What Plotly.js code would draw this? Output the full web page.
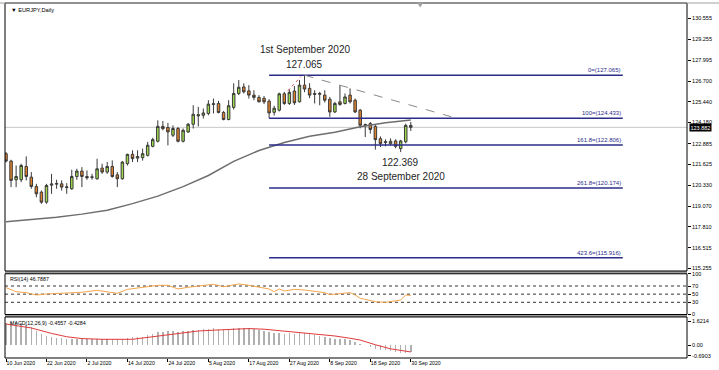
<!DOCTYPE html>
<html><head><meta charset="utf-8">
<script src="https://cdn.plot.ly/plotly-3.0.1.min.js"></script>
<style>html,body{margin:0;padding:0;background:#fff}#chart{width:719px;height:370px}</style>
</head><body><div id="chart"></div>
<script>
// ---- candles (daily bars, 10 Jun 2020 .. 30 Sep 2020) ----
const openP  = [122.27,121.82,120.68,120.68,121.49,120.84,120.27,119.92,119.31,120.35,
                120.45,120.43,120.20,120.13,120.88,121.21,120.88,120.83,120.74,121.39,
                121.15,121.49,120.98,120.74,121.66,122.23,122.00,122.03,122.17,122.72,
                123.03,123.94,123.87,123.40,123.81,123.03,123.60,124.07,124.58,124.62,
                124.73,125.28,125.34,124.79,124.36,125.10,125.95,126.35,126.11,125.85,
                125.71,125.65,125.48,124.80,124.93,125.93,125.34,126.10,125.44,126.46,
                126.26,125.95,125.90,125.85,125.60,124.82,125.44,125.34,125.85,125.54,
                124.93,123.98,124.11,123.94,123.19,122.95,122.88,123.05,122.58,123.00,124.00];
const highP  = [122.37,121.90,121.55,121.66,122.11,121.15,120.43,120.02,120.43,121.04,
                120.68,120.64,120.47,121.29,121.35,121.45,121.25,121.04,121.96,121.66,
                121.76,121.86,121.15,121.82,122.27,122.48,122.48,122.58,122.99,123.25,
                124.31,124.27,124.15,124.00,123.90,123.81,124.15,125.23,125.13,125.03,
                125.54,125.64,125.50,124.88,125.54,126.57,126.77,126.57,126.46,126.15,
                125.85,125.80,125.60,125.20,126.00,126.05,126.20,126.40,126.77,127.065,
                126.58,126.15,126.05,126.15,125.74,125.44,126.46,125.95,126.26,125.64,
                125.00,124.11,124.21,124.07,123.33,123.15,123.21,123.15,123.12,124.11,124.21];
const lowP   = [121.75,120.23,120.23,120.53,120.64,120.13,119.61,119.21,119.21,119.82,
                120.13,120.02,119.82,120.07,120.68,120.23,120.68,120.68,120.68,121.04,
                121.04,120.80,120.23,120.68,121.55,121.76,121.76,121.85,122.10,122.66,
                122.96,123.70,122.78,123.29,122.96,122.96,123.54,123.81,123.94,124.42,
                124.62,124.73,124.73,124.31,124.31,124.97,125.85,125.95,125.64,125.54,
                125.40,125.30,124.433,124.60,124.85,125.25,125.25,125.25,125.40,126.03,
                125.66,125.34,125.23,125.40,124.52,124.76,125.20,125.28,125.34,124.76,
                123.82,123.29,123.50,122.52,122.68,122.72,122.78,122.60,122.369,122.90,123.66];
const closeP = [121.82,120.64,120.88,121.55,120.88,120.27,119.82,119.31,120.33,120.42,
                120.42,120.23,120.24,120.88,121.21,120.88,120.80,120.85,121.35,121.15,
                121.49,120.88,120.74,121.76,122.23,121.97,122.10,122.27,122.79,123.13,
                123.94,123.80,123.60,123.81,123.03,123.70,124.07,124.68,124.65,124.76,
                125.30,125.32,124.79,124.36,125.20,125.95,126.33,126.05,125.85,125.71,
                125.44,125.44,124.76,125.05,125.93,125.34,126.02,125.38,126.46,126.22,
                125.85,125.90,125.95,125.54,124.82,125.34,125.28,125.74,125.44,124.82,
                124.01,124.05,123.75,123.13,122.88,123.00,123.03,122.72,123.05,124.00,123.882];
const barIdx = openP.map((_, i) => i);

// date labels every 8 bars
const dateTickIdx  = [0, 8, 16, 24, 32, 40, 48, 56, 64, 72, 80];
const dateTickText = ['10 Jun 2020','22 Jun 2020','2 Jul 2020','14 Jul 2020','24 Jul 2020',
                      '5 Aug 2020','17 Aug 2020','27 Aug 2020','8 Sep 2020','18 Sep 2020','30 Sep 2020'];

// moving average (read at every 5th bar)
const maIdx = [0,5,10,15,20,25,30,35,40,45,50,55,60,65,70,75,80];
const maVal = [118.12,118.24,118.39,118.58,118.82,119.22,119.68,120.26,120.94,121.80,
               122.47,122.96,123.33,123.58,123.92,124.16,124.33];

// price axis ticks
const priceTicks = [130.555,129.255,127.995,126.700,125.440,124.180,122.885,121.625,
                    120.330,119.070,117.810,116.515,115.255];
const lastPrice = 123.882;

// Fibonacci expansion levels
const fibLevels = [127.065,124.433,122.806,120.174,115.916];
const fibLabels = ['0=(127.065)','100=(124.433)','161.8=(122.806)','261.8=(120.174)','423.6=(115.916)'];
const fibSpan = [52, 121.9];

// trendline from the 1 Sep high and red dotted segment
const trendIdx = [59, 88];
const trendVal = [127.065, 124.53];
const redIdx = [55.7, 58.3];
const redVal = [126.12, 126.98];

// RSI(14)
const rsiIdx = [0,2,4,6,8,10,13,15,18,21,22,24,27,30,32,34,36,38,41,43,44,46,48,50,52,53,54,55,57,59,61,63,64,66,68,69,70,71,73,75,76,77,78,79,80];
const rsiVal = [66,56,53.7,47.9,50.4,52.1,53.7,54.6,59.4,55.2,52.1,61.8,66,71.7,71.7,62.7,66.9,70.1,74.3,68.3,70.1,75.1,71.7,66.9,62.7,56,62.7,57.7,61.8,60.2,57.7,53.7,48.7,52.1,53.7,47.9,39.8,37.3,31.5,29.9,31.5,32.3,35.6,47.9,46.7887];
const rsiLevels = [70, 50, 30];

// MACD(12,26,9) main (histogram) and signal
const macdMain = [1.47,1.58,1.58,1.50,1.36,1.21,0.96,0.77,0.63,0.58,
                  0.52,0.48,0.41,0.43,0.45,0.45,0.43,0.41,0.43,0.43,
                  0.45,0.45,0.43,0.45,0.49,0.54,0.54,0.58,0.67,0.77,
                  0.87,0.91,0.93,0.93,0.91,0.93,0.96,1.03,1.05,1.08,
                  1.12,1.14,1.12,1.08,1.10,1.14,1.16,1.16,1.14,1.10,
                  1.03,0.96,0.87,0.81,0.81,0.79,0.81,0.77,0.81,0.81,
                  0.74,0.67,0.63,0.58,0.49,0.45,0.43,0.41,0.36,0.22,
                  0.12,0.04,-0.08,-0.20,-0.28,-0.33,-0.36,-0.41,-0.47,-0.49,-0.4557];
const sigIdx = [0,5,9,12,15,19,25,28,32,35,38,42,45,48,51,55,58,61,65,68,70,73,76,80];
const sigVal = [1.42,1.16,0.80,0.58,0.46,0.41,0.41,0.54,0.70,0.85,0.96,1.03,1.08,1.12,1.08,0.96,0.85,0.77,0.63,0.48,0.36,0.05,-0.22,-0.4284];

// ---------------- drawing ----------------
const FONT = 'Liberation Sans, Arial, sans-serif';
const traces = [];

traces.push({type:'scatter', mode:'lines', x:maIdx, y:maVal, xaxis:'x', yaxis:'y',
  line:{color:'#6e6e6e', width:1.5}, hoverinfo:'skip'});

fibLevels.forEach(lv => traces.push({type:'scatter', mode:'lines', x:fibSpan, y:[lv, lv],
  xaxis:'x', yaxis:'y', line:{color:'#2c2c8a', width:1.6}, hoverinfo:'skip'}));

traces.push({type:'scatter', mode:'lines', x:trendIdx, y:trendVal, xaxis:'x', yaxis:'y',
  line:{color:'#8a8a8a', width:1, dash:'dash'}, hoverinfo:'skip'});
traces.push({type:'scatter', mode:'lines', x:redIdx, y:redVal, xaxis:'x', yaxis:'y',
  line:{color:'#e05050', width:1, dash:'dot'}, hoverinfo:'skip'});

traces.push({type:'candlestick', x:barIdx, open:openP, high:highP, low:lowP, close:closeP,
  xaxis:'x', yaxis:'y', whiskerwidth:0,
  increasing:{line:{color:'#3a3a3a', width:1}, fillcolor:'#9ed84c'},
  decreasing:{line:{color:'#3a3a3a', width:1}, fillcolor:'#e0812a'},
  hoverinfo:'skip'});

traces.push({type:'scatter', mode:'lines', x:rsiIdx, y:rsiVal, xaxis:'x', yaxis:'y2',
  line:{color:'#f2a54a', width:1}, hoverinfo:'skip'});

traces.push({type:'bar', x:barIdx, y:macdMain, xaxis:'x', yaxis:'y3', width:0.3,
  marker:{color:'#b0b0b0', line:{width:0}}, hoverinfo:'skip'});
traces.push({type:'scatter', mode:'lines', x:sigIdx, y:sigVal, xaxis:'x', yaxis:'y3',
  line:{color:'#e03a3a', width:1}, hoverinfo:'skip'});

const shapes = [];
// current price line
shapes.push({type:'line', xref:'x domain', x0:0, x1:1, yref:'y', y0:lastPrice, y1:lastPrice,
  line:{color:'#c8c8c8', width:1}, layer:'below'});
// RSI level lines
rsiLevels.forEach(lv => shapes.push({type:'line', xref:'x domain', x0:0, x1:1, yref:'y2', y0:lv, y1:lv,
  line:{color:'#333', width:1, dash:'dot'}, layer:'below'}));
// separators between panels
shapes.push({type:'rect', xref:'paper', x0:0, x1:1, yref:'paper', y0:0.2372, y1:0.2451,
  fillcolor:'#9c9c9c', line:{width:0}});
shapes.push({type:'rect', xref:'paper', x0:0, x1:1, yref:'paper', y0:0.1155, y1:0.1225,
  fillcolor:'#9c9c9c', line:{width:0}});
// panel frames
['y','y2','y3'].forEach(a => shapes.push({type:'rect', xref:'paper', x0:0, x1:1,
  yref:a + ' domain', y0:0, y1:1, line:{color:'#000', width:1}, fillcolor:'rgba(0,0,0,0)'}));
// top gray border & chart shift marker
shapes.push({type:'line', xref:'paper', x0:-0.0073, x1:1.047, yref:'paper', y0:1.0, y1:1.0,
  line:{color:'#a0a0a0', width:1}});
shapes.push({type:'path', xref:'paper', yref:'paper',
  path:'M 0.6040,1.002 L 0.6135,1.002 L 0.6088,0.9875 Z', fillcolor:'#a0a0a0', line:{width:0}});

const annotations = [];
fibLevels.forEach((lv, i) => annotations.push({xref:'x', yref:'y', x:fibSpan[1], y:lv,
  xanchor:'right', yanchor:'bottom', yshift:0, text:fibLabels[i], showarrow:false,
  font:{family:FONT, size:6, color:'#2c2c8a'}}));

const noteFont = {family:FONT, size:10, color:'#1e1e1e'};
annotations.push({xref:'x', yref:'y', x:59, y:128.65, text:'1st September 2020', showarrow:false, font:noteFont});
annotations.push({xref:'x', yref:'y', x:59, y:127.69, text:'127.065', showarrow:false, font:noteFont});
annotations.push({xref:'x', yref:'y', x:78, y:121.73, text:'122.369', showarrow:false, font:noteFont});
annotations.push({xref:'x', yref:'y', x:78, y:120.90, text:'28 September 2020', showarrow:false, font:noteFont});

annotations.push({xref:'paper', yref:'y domain', x:0.006, y:1, xanchor:'left', yanchor:'top', yshift:-2,
  text:'▼ EURJPY,Daily', showarrow:false, font:{family:FONT, size:5.7, color:'#000'}});
annotations.push({xref:'paper', yref:'y2 domain', x:0.004, y:1, xanchor:'left', yanchor:'top', yshift:0,
  text:'RSI(14) 46.7887', showarrow:false, font:{family:FONT, size:5.3, color:'#000'}});
annotations.push({xref:'paper', yref:'y3 domain', x:0.004, y:1, xanchor:'left', yanchor:'top', yshift:-1,
  text:'MACD(12,26,9) -0.4557 -0.4284', showarrow:false, font:{family:FONT, size:5.3, color:'#000'}});
annotations.push({xref:'paper', yref:'y', x:1, y:lastPrice, xanchor:'left', xshift:2,
  text:lastPrice.toFixed(3), showarrow:false, bgcolor:'#000', borderpad:0.5,
  font:{family:FONT, size:5.5, color:'#fff'}});

const axFont = {family:FONT, size:5.5, color:'#000'};
const yBase = {side:'right', anchor:'x', showgrid:false, zeroline:false, ticks:'outside', ticklen:3,
  tickcolor:'#000', tickfont:axFont, fixedrange:true, showline:false};

const layout = {
  width:719, height:370, margin:{l:5, r:32, t:3, b:12},
  paper_bgcolor:'#fff', plot_bgcolor:'#fff', showlegend:false, bargap:0,
  xaxis:{range:[-0.198, 134.59], anchor:'y3', showgrid:false, zeroline:false,
    tickvals:dateTickIdx, ticktext:dateTickText, ticks:'outside', ticklen:3, tickcolor:'#000',
    ticklabelposition:'outside right', tickfont:{family:FONT, size:5.2, color:'#000'},
    rangeslider:{visible:false}, fixedrange:true, showline:false},
  yaxis:Object.assign({}, yBase, {domain:[0.2451, 1], range:[115.106, 131.477],
    tickvals:priceTicks, ticktext:priceTicks.map(v => v.toFixed(3))}),
  yaxis2:Object.assign({}, yBase, {domain:[0.1225, 0.2372], range:[0, 100],
    tickvals:[0,30,50,70,100], ticktext:['0','30','50','70','100']}),
  yaxis3:Object.assign({}, yBase, {domain:[0, 0.1155], range:[-0.828, 1.887],
    tickvals:[-0.6903, 0, 1.6214], ticktext:['-0.6903','0.00','1.6214']}),
  shapes:shapes, annotations:annotations
};

Plotly.newPlot('chart', traces, layout, {staticPlot:true, displayModeBar:false});
</script></body></html>
